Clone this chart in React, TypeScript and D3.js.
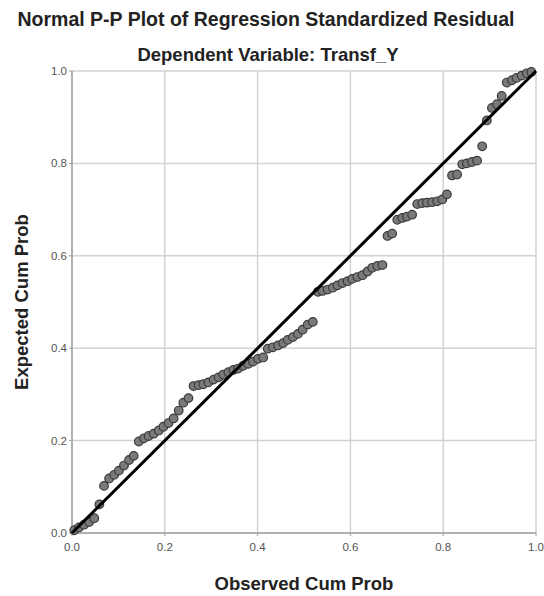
import * as d3 from "d3";

// observed cumulative probability (x) and expected cumulative probability (y)
const observed = [
  0.005, 0.015, 0.026, 0.037, 0.048, 0.059, 0.069, 0.08, 0.091, 0.101, 0.112, 0.123, 0.133,
  0.144, 0.155, 0.165, 0.176, 0.187, 0.197, 0.208, 0.219, 0.23, 0.24, 0.251, 0.262, 0.273,
  0.283, 0.294, 0.305, 0.316, 0.326, 0.337, 0.348, 0.358, 0.369, 0.38, 0.39, 0.401, 0.412,
  0.422, 0.433, 0.444, 0.455, 0.465, 0.476, 0.487, 0.497, 0.508, 0.519, 0.53, 0.54, 0.551,
  0.562, 0.572, 0.583, 0.594, 0.604, 0.615, 0.626, 0.637, 0.647, 0.658, 0.669, 0.68, 0.69,
  0.701, 0.712, 0.722, 0.733, 0.744, 0.755, 0.765, 0.776, 0.787, 0.798, 0.808, 0.819, 0.83,
  0.841, 0.851, 0.862, 0.873, 0.884, 0.894, 0.905, 0.916, 0.926, 0.937, 0.948, 0.958, 0.969,
  0.98, 0.99,
];
const expected = [
  0.006, 0.012, 0.018, 0.024, 0.032, 0.062, 0.102, 0.118, 0.126, 0.135, 0.146, 0.158, 0.167,
  0.198, 0.205, 0.21, 0.215, 0.222, 0.23, 0.238, 0.248, 0.265, 0.282, 0.292, 0.318, 0.32,
  0.322, 0.326, 0.332, 0.337, 0.343, 0.348, 0.353, 0.356, 0.362, 0.366, 0.371, 0.377, 0.38,
  0.399, 0.402, 0.406, 0.411, 0.418, 0.424, 0.431, 0.44, 0.451, 0.457, 0.522, 0.524, 0.527,
  0.531, 0.536, 0.541, 0.545, 0.55, 0.554, 0.558, 0.566, 0.574, 0.578, 0.58, 0.643, 0.648,
  0.678, 0.682, 0.685, 0.689, 0.712, 0.714, 0.715, 0.716, 0.718, 0.722, 0.733, 0.774, 0.776,
  0.798, 0.8, 0.803, 0.806, 0.837, 0.893, 0.92, 0.928, 0.946, 0.975, 0.98, 0.985, 0.99,
  0.995, 0.998,
];
const ticks = [0, 0.2, 0.4, 0.6, 0.8, 1.0];

const W = 544;
const H = 596;
const plot = { left: 72, right: 536, top: 71, bottom: 533 };

export default function App() {
  const x = d3.scaleLinear().domain([0, 1]).range([plot.left, plot.right]);
  const y = d3.scaleLinear().domain([0, 1]).range([plot.bottom, plot.top]);
  const fmt = d3.format(".1f");
  const font = "'Liberation Sans', Arial, sans-serif";

  return (
    <svg
      width={W}
      height={H}
      style={{ position: "absolute", left: 0, top: 0, background: "#fff" }}
      fontFamily={font}
    >
      <text x={266} y={26} textAnchor="middle" fontSize={19.5} fontWeight="bold" fill="#222">
        Normal P-P Plot of Regression Standardized Residual
      </text>
      <text x={268} y={61} textAnchor="middle" fontSize={18.5} fontWeight="bold" fill="#222">
        Dependent Variable: Transf_Y
      </text>

      {/* grid */}
      {ticks.map((t) => (
        <g key={`g-${t}`}>
          <line x1={x(t)} x2={x(t)} y1={plot.top} y2={plot.bottom} stroke="#d2d2d2" strokeWidth={1.5} />
          <line x1={plot.left} x2={plot.right} y1={y(t)} y2={y(t)} stroke="#d2d2d2" strokeWidth={1.5} />
        </g>
      ))}
      {/* axes */}
      <line x1={plot.left} x2={plot.left} y1={plot.top} y2={plot.bottom} stroke="#a0a0a0" strokeWidth={1.5} />
      <line x1={plot.left} x2={plot.right} y1={plot.bottom} y2={plot.bottom} stroke="#a0a0a0" strokeWidth={1.5} />
      {ticks.map((t) => (
        <g key={`t-${t}`}>
          <line x1={plot.left - 3} x2={plot.left} y1={y(t)} y2={y(t)} stroke="#a0a0a0" />
          <line x1={x(t)} x2={x(t)} y1={plot.bottom} y2={plot.bottom + 3} stroke="#a0a0a0" />
          <text x={plot.left - 5} y={y(t) + 4} textAnchor="end" fontSize={11.5} fill="#555">
            {fmt(t)}
          </text>
          <text x={x(t)} y={plot.bottom + 18} textAnchor="middle" fontSize={11.5} fill="#555">
            {fmt(t)}
          </text>
        </g>
      ))}

      {/* points */}
      {observed.map((o, i) => (
        <circle
          key={`p-${i}`}
          cx={x(o)}
          cy={y(expected[i])}
          r={4.3}
          fill="#7a7a7a"
          stroke="#3a3a3a"
          strokeWidth={1.2}
        />
      ))}

      {/* reference line */}
      <line x1={x(0)} y1={y(0)} x2={x(1)} y2={y(1)} stroke="#000" strokeWidth={3} />

      <text
        x={(plot.left + plot.right) / 2}
        y={590}
        textAnchor="middle"
        fontSize={18.5}
        fontWeight="bold"
        fill="#222"
      >
        Observed Cum Prob
      </text>
      <text
        transform={`translate(28, ${(plot.top + plot.bottom) / 2}) rotate(-90)`}
        textAnchor="middle"
        fontSize={18.5}
        fontWeight="bold"
        fill="#222"
      >
        Expected Cum Prob
      </text>
    </svg>
  );
}
